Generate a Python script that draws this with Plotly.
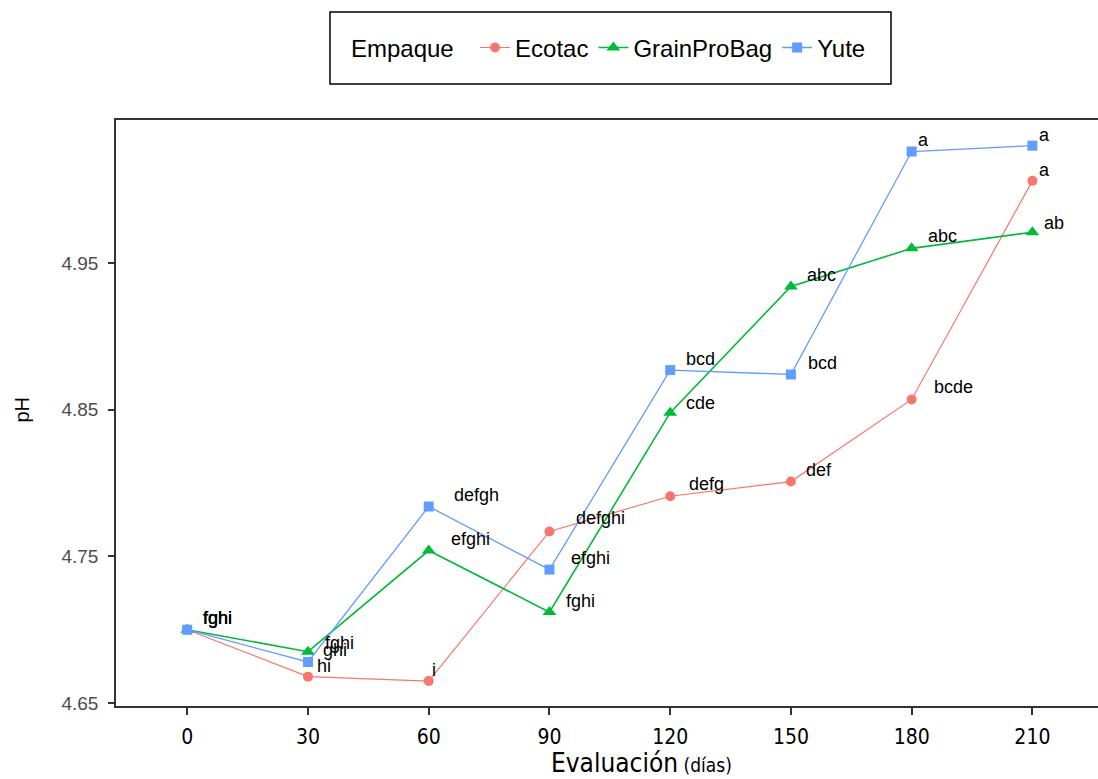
import plotly.graph_objects as go

# ---- data ----
dias = [0, 30, 60, 90, 120, 150, 180, 210]
tick_labels = ["0", "30", "60", "90", "120", "150", "180", "210"]

ecotac = [4.700, 4.668, 4.665, 4.767, 4.791, 4.801, 4.857, 5.006]
grainpro = [4.700, 4.685, 4.754, 4.712, 4.848, 4.934, 4.960, 4.971]
yute = [4.700, 4.678, 4.784, 4.741, 4.877, 4.874, 5.026, 5.030]

ecotac_letters = ["fghi", "ghi", "i", "defghi", "defg", "def", "bcde", "a"]
grainpro_letters = ["fghi", "fghi", "efghi", "fghi", "cde", "abc", "abc", "ab"]
yute_letters = ["fghi", "hi", "defgh", "efghi", "bcd", "bcd", "a", "a"]

# label pixel offsets (left edge dx, vertical dy; positive dy = up)
ecotac_off = [(15, 12), (14, 27), (2, 11), (26, 13), (18, 12), (14, 12), (21, 12), (6, 11)]
grainpro_off = [(15, 12), (16, 9), (21, 12), (16, 11), (15, 10), (15, 11), (15, 12), (11, 9)]
yute_off = [(15, 12), (8, -4), (24, 12), (21, 12), (15, 11), (16, 12), (5, 12), (6, 11)]

series = [
    ("Ecotac", ecotac, ecotac_letters, ecotac_off, "#F8766D", "circle", 10, 1.2),
    ("GrainProBag", grainpro, grainpro_letters, grainpro_off, "#00BA38", "triangle-up", 12, 1.6),
    ("Yute", yute, yute_letters, yute_off, "#619CFF", "square", 10, 1.3),
]

NARROW = "DejaVu Sans Condensed, Liberation Sans Narrow, Arial Narrow, sans-serif"
SANS = "Liberation Sans, Arial, sans-serif"

fig = go.Figure()
annotations = []
for name, vals, letters, offs, color, sym, msize, lw in series:
    fig.add_trace(go.Scatter(
        x=dias, y=vals, name=name, mode="lines+markers",
        line=dict(color=color, width=lw),
        marker=dict(color=color, symbol=sym, size=msize),
    ))
    for xv, yv, txt, (dx, dy) in zip(dias, vals, letters, offs):
        annotations.append(dict(
            x=xv, y=yv, xref="x", yref="y", text=txt, showarrow=False,
            xanchor="left", yanchor="middle", xshift=dx - 1, yshift=dy,
            font=dict(family=SANS, size=18, color="black"),
        ))

# axis titles as annotations
annotations.append(dict(
    x=0.5356, y=-0.097, xref="paper", yref="paper", showarrow=False,
    xanchor="center", yanchor="middle",
    text="Evaluación<span style='font-size:19px'> (días)</span>",
    font=dict(family=NARROW, size=26, color="black"),
))
annotations.append(dict(
    x=-0.0957, y=0.506, xref="paper", yref="paper", showarrow=False,
    xanchor="center", yanchor="middle", textangle=-90, text="pH",
    font=dict(family=SANS, size=20, color="black"),
))

fig.update_layout(
    width=1098, height=779,
    margin=dict(l=116, r=0, t=120, b=73),
    paper_bgcolor="white", plot_bgcolor="white",
    showlegend=True,
    legend=dict(
        orientation="h", x=0.503, y=1.123, xanchor="center", yanchor="middle",
        title=dict(text="Empaque  ", font=dict(size=24, color="black")),
        font=dict(family=SANS, size=24, color="black"),
        bgcolor="rgba(0,0,0,0)", itemwidth=30,
    ),
    annotations=annotations,
    shapes=[dict(
        type="rect", xref="paper", yref="paper",
        x0=0.2179, x1=0.7892, y0=1.0614, y1=1.1843,
        line=dict(color="black", width=1.5), fillcolor="rgba(0,0,0,0)",
    )],
    xaxis=dict(
        range=[-17.7, 226.3], tickmode="array", tickvals=dias, ticktext=tick_labels,
        showgrid=False, zeroline=False, showline=True, mirror=True,
        linecolor="#333333", linewidth=1.5,
        ticks="outside", ticklen=7, tickwidth=1.5, tickcolor="#333333",
        ticklabelstandoff=4,
        tickfont=dict(family=NARROW, size=21, color="black"),
    ),
    yaxis=dict(
        range=[4.648, 5.0475], tickmode="array",
        tickvals=[4.65, 4.75, 4.85, 4.95], ticktext=["4.65", "4.75", "4.85", "4.95"],
        showgrid=False, zeroline=False, showline=True,
        linecolor="#333333", linewidth=1.5,
        ticks="outside", ticklen=6, tickwidth=1.5, tickcolor="#333333",
        ticklabelstandoff=6,
        tickfont=dict(family=SANS, size=19, color="#4D4D4D"),
    ),
)

fig.write_html(
    "out.html",
    config={"displayModeBar": False},
    post_script="document.body.style.margin='0';document.body.style.overflow='hidden';",
)
